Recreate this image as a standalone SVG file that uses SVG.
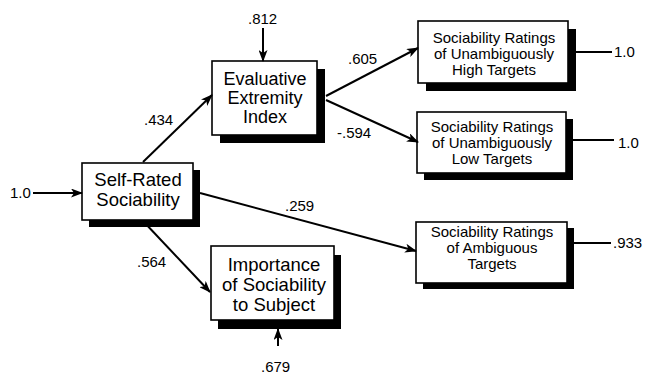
<svg xmlns="http://www.w3.org/2000/svg" width="646" height="376" viewBox="0 0 646 376">
<defs>
<style>
.box{fill:#fff;stroke:#000;stroke-width:1.6}
.sh{fill:#000}
.t{font-family:"Liberation Sans",Arial,Helvetica,sans-serif;fill:#000;text-anchor:middle}
.big{font-size:18.5px}
.mid{font-size:18px}
.sm{font-size:15px}
.lab{font-family:"Liberation Sans",Arial,Helvetica,sans-serif;font-size:15px;fill:#000}
.c{stroke:#000;stroke-width:2;fill:none}
.ca{stroke:#000;stroke-width:2;fill:none;marker-end:url(#ah)}
</style>
<marker id="ah" markerUnits="userSpaceOnUse" markerWidth="12" markerHeight="9" refX="11" refY="4.5" orient="auto">
<path d="M0,0 L12,4.5 L0,9 L3,4.5 z" fill="#000"/>
</marker>
</defs>
<rect width="646" height="376" fill="#fff"/>

<g id="self-rated">
<rect class="sh" x="89" y="170" width="111" height="57"/>
<rect class="box" x="82" y="163" width="111" height="57"/>
<text class="t big" x="138" y="186">Self-Rated</text>
<text class="t big" x="138" y="205.5">Sociability</text>
</g>

<g id="evaluative">
<rect class="sh" x="220" y="69" width="105" height="74"/>
<rect class="box" x="212" y="61" width="105" height="74"/>
<text class="t mid" x="265" y="85">Evaluative</text>
<text class="t mid" x="265" y="104">Extremity</text>
<text class="t mid" x="265" y="123">Index</text>
</g>

<g id="importance">
<rect class="sh" x="218" y="255" width="123" height="74"/>
<rect class="box" x="211" y="246" width="123" height="74"/>
<text class="t big" x="274" y="271">Importance</text>
<text class="t big" x="274" y="291">of Sociability</text>
<text class="t big" x="274" y="311">to Subject</text>
</g>

<g id="high">
<rect class="sh" x="426" y="29" width="150" height="62"/>
<rect class="box" x="418" y="21" width="150" height="62"/>
<text class="t sm" x="494" y="42.5">Sociability Ratings</text>
<text class="t sm" x="494" y="58.5">of Unambiguously</text>
<text class="t sm" x="494" y="74.5">High Targets</text>
</g>

<g id="low">
<rect class="sh" x="424" y="119" width="149" height="61"/>
<rect class="box" x="417" y="112" width="149" height="61"/>
<text class="t sm" x="492" y="131.5">Sociability Ratings</text>
<text class="t sm" x="492" y="147.5">of Unambiguously</text>
<text class="t sm" x="492" y="163.5">Low Targets</text>
</g>

<g id="ambiguous">
<rect class="sh" x="423" y="228" width="151" height="61"/>
<rect class="box" x="416" y="222" width="151" height="61"/>
<text class="t sm" x="492" y="237">Sociability Ratings</text>
<text class="t sm" x="492" y="253">of Ambiguous</text>
<text class="t sm" x="492" y="269">Targets</text>
</g>

<g id="connectors">
<line class="ca" x1="33" y1="193" x2="82" y2="193"/>
<line class="ca" x1="143" y1="162" x2="212" y2="95"/>
<line class="ca" x1="143" y1="221" x2="210" y2="292"/>
<line class="ca" x1="200" y1="193" x2="416" y2="251"/>
<line class="ca" x1="326" y1="96" x2="418" y2="48"/>
<line class="ca" x1="326" y1="100" x2="418" y2="142"/>
<line class="ca" x1="263" y1="28" x2="263" y2="61"/>
<line class="ca" x1="278" y1="346" x2="278" y2="329"/>
<line class="c" x1="576" y1="52" x2="612" y2="52"/>
<line class="c" x1="573" y1="140" x2="614" y2="140"/>
<line class="c" x1="574" y1="243" x2="611" y2="243"/>
</g>

<g id="labels">
<text class="lab" x="10" y="198">1.0</text>
<text class="lab" x="144" y="125">.434</text>
<text class="lab" x="137" y="267">.564</text>
<text class="lab" x="285" y="211">.259</text>
<text class="lab" x="348" y="64">.605</text>
<text class="lab" x="337" y="138">-.594</text>
<text class="lab" x="248" y="24">.812</text>
<text class="lab" x="261" y="372">.679</text>
<text class="lab" x="614" y="57">1.0</text>
<text class="lab" x="618" y="148">1.0</text>
<text class="lab" x="613" y="248">.933</text>
</g>
</svg>
